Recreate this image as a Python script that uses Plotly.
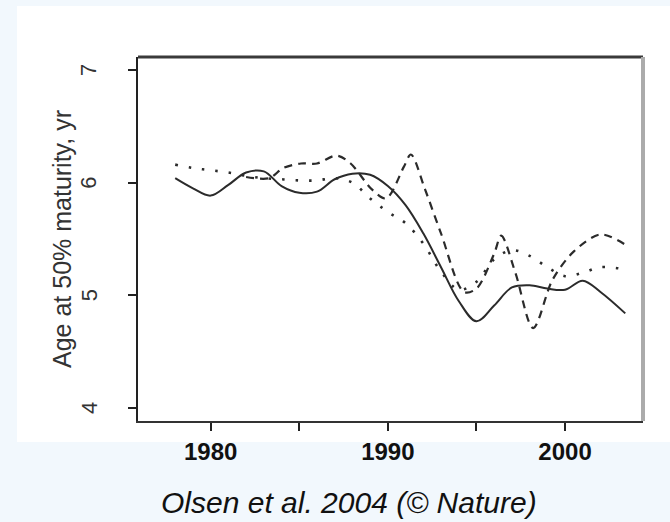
import plotly.graph_objects as go

# --- data ---
years_solid = [1978, 1979, 1980, 1981, 1982, 1983, 1984, 1985, 1986, 1987, 1988, 1989,
               1990, 1991, 1992, 1993, 1994, 1995, 1996, 1997, 1998, 1999, 2000, 2001,
               2002, 2003.4]
age_solid = [6.04, 5.95, 5.885, 5.98, 6.09, 6.10, 5.97, 5.91, 5.92, 6.03, 6.08, 6.07,
             5.97, 5.80, 5.55, 5.25, 4.95, 4.77, 4.91, 5.07, 5.09, 5.06, 5.05, 5.13,
             5.03, 4.84]

years_dashed = [1982.0, 1983.3, 1984.1, 1985.1, 1986.0, 1987.1, 1987.9, 1989.1, 1989.9,
                1990.9, 1991.3, 1992.1, 1993.0, 1994.3, 1995.0, 1996.0, 1996.4, 1997.2,
                1998.2, 1999.3, 2000.5, 2002.0, 2003.4]
age_dashed = [6.05, 6.04, 6.13, 6.17, 6.17, 6.24, 6.17, 5.94, 5.86,
              6.14, 6.25, 5.94, 5.55, 5.03, 5.06, 5.37, 5.53, 5.20,
              4.71, 5.14, 5.39, 5.54, 5.45]

years_dotted = [1978, 1979, 1980, 1981, 1982, 1983, 1984, 1985, 1986, 1987, 1988, 1989,
                1990, 1991, 1992, 1993, 1994, 1995, 1996, 1997, 1998, 1999, 2000, 2001,
                2002, 2003.4]
age_dotted = [6.16, 6.13, 6.11, 6.09, 6.06, 6.04, 6.03, 6.02, 6.02, 6.04, 6.00, 5.86,
              5.74, 5.64, 5.46, 5.21, 5.05, 5.12, 5.32, 5.40, 5.35, 5.25, 5.17, 5.20,
              5.25, 5.23]

x_ticks = [1980, 1985, 1990, 1995, 2000]
x_tick_labels = ["1980", "", "1990", "", "2000"]
y_ticks = [4, 5, 6, 7]
y_tick_labels = ["4", "5", "6", "7"]

y_title = "Age at 50% maturity, yr"
caption = "Olsen et al. 2004 (© Nature)"

LINE = "#2b2b2b"
FONT = "Liberation Sans, Arial, sans-serif"
PAGE_BG = "#f2f8fd"

fig = go.Figure()
fig.add_trace(go.Scatter(x=years_dotted, y=age_dotted, mode="lines",
                         line=dict(color=LINE, width=2.6, dash="2.5px,11px",
                                   shape="spline", smoothing=1.0),
                         hoverinfo="skip", showlegend=False))
fig.add_trace(go.Scatter(x=years_dashed, y=age_dashed, mode="lines",
                         line=dict(color=LINE, width=2.2, dash="8px,6px",
                                   shape="spline", smoothing=0.9),
                         hoverinfo="skip", showlegend=False))
fig.add_trace(go.Scatter(x=years_solid, y=age_solid, mode="lines",
                         line=dict(color=LINE, width=2, shape="spline", smoothing=1.0),
                         hoverinfo="skip", showlegend=False))

W, H = 670, 522
L, R, T, B = 138, 27, 57, 101
pw = W - L - R
ph = H - T - B

annotations = [
    dict(text=y_title, xref="paper", yref="paper",
         x=(62 - L) / pw, y=0.5, xanchor="center", yanchor="middle",
         textangle=-90, showarrow=False,
         font=dict(family=FONT, size=25, color="#333")),
    dict(text=caption, xref="paper", yref="paper",
         x=(349 - L) / pw, y=-(502 - (H - B)) / ph,
         xanchor="center", yanchor="middle", showarrow=False,
         font=dict(family=FONT, size=30, color="#111", style="italic")),
]
# rotated y tick labels placed on the y scale
for v, lab in zip(y_ticks, y_tick_labels):
    annotations.append(dict(text=lab, xref="paper", yref="y", x=(89 - L) / pw, y=v,
                            xanchor="center", yanchor="middle", textangle=-90,
                            showarrow=False,
                            font=dict(family=FONT, size=22, color="#333")))

fig.update_layout(
    width=W, height=H,
    margin=dict(l=L, r=R, t=T, b=B, pad=0),
    paper_bgcolor=PAGE_BG,
    plot_bgcolor="white",
    font=dict(family=FONT, color="#222"),
    xaxis=dict(range=[1975.9, 2004.4], tickmode="array", tickvals=x_ticks,
               ticktext=x_tick_labels, ticks="outside", ticklen=8, tickwidth=2,
               tickcolor="#222", showline=True, linecolor="#333", linewidth=2,
               showgrid=False, zeroline=False, fixedrange=True,
               tickfont=dict(family=FONT, size=24, color="#111", weight="bold"),
               ticklabelstandoff=0),
    yaxis=dict(range=[3.885, 7.115], tickmode="array", tickvals=y_ticks,
               ticks="outside", ticklen=8, tickwidth=2, showticklabels=False,
               tickcolor="#222", showline=True, linecolor="#222", linewidth=2,
               showgrid=False, zeroline=False, fixedrange=True),
    shapes=[
        # white panel behind the chart
        dict(type="rect", xref="paper", yref="paper", layer="below",
             x0=(17 - L) / pw, x1=(W - L) / pw,
             y0=-(442 - (H - B)) / ph, y1=1 + (T - 6) / ph,
             fillcolor="white", line=dict(width=0)),
        # top frame line
        dict(type="line", xref="paper", yref="paper", x0=0, x1=1, y0=1, y1=1,
             line=dict(color="#3a3a3a", width=3)),
        # right frame line
        dict(type="line", xref="paper", yref="paper", x0=1, x1=1, y0=0, y1=1,
             line=dict(color="#ababab", width=4)),
    ],
    annotations=annotations,
)

fig.write_html(
    "out.html",
    config={"displayModeBar": False, "staticPlot": True},
    post_script=(
        "document.body.style.margin='0';"
        "document.body.style.padding='0';"
        "document.body.style.overflow='hidden';"
        "document.body.style.background='" + PAGE_BG + "';"
    ),
)
